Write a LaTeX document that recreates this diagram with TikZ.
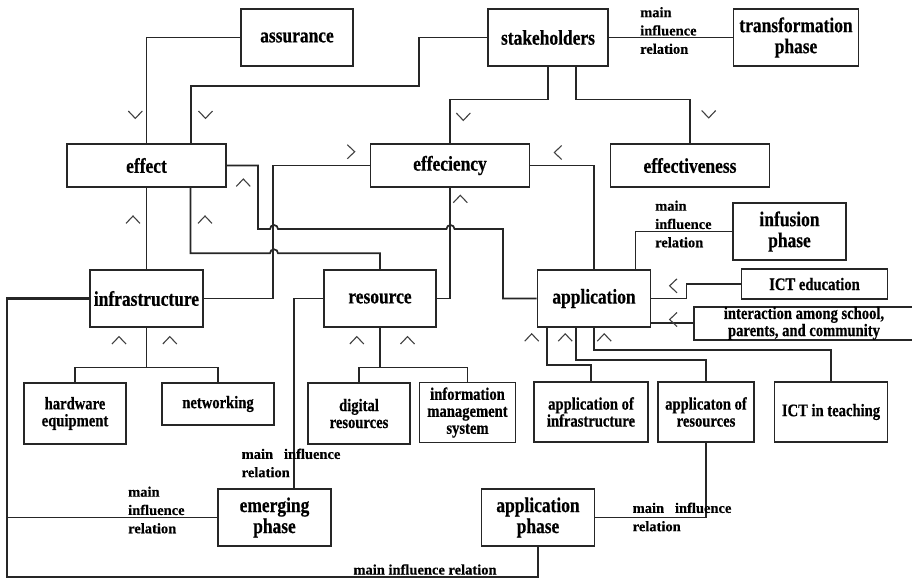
\documentclass[tikz,border=0pt]{standalone}
\usepackage{fontspec}
\newfontfamily\boxfont{Liberation Serif}[FakeStretch=0.83, FakeBold=0.5]
\newfontfamily\lblfont{Liberation Serif}[FakeBold=0.4]
\usetikzlibrary{positioning}

\begin{document}
\begin{tikzpicture}[
  x=1pt, y=-1pt,
  wire/.style={line width=1.7pt, draw=black!85},
  rail/.style={wire, line width=2.2pt},
  blk/.style={rectangle, draw=black!85, line width=1.8pt, inner sep=0pt, align=center,
    font=\boxfont\bfseries\fontsize{21}{21}\selectfont},
  sub/.style={blk, font=\boxfont\bfseries\fontsize{17.6}{17}\selectfont},
  lbl/.style={inner sep=0pt, align=left, anchor=west,
    font=\lblfont\bfseries\fontsize{14.5}{18.3}\selectfont},
  chev/.pic={\draw[line width=1.1pt, black!75] (-7,3.7) -- (0,-3.7) -- (7,3.7);}
]
\useasboundingbox (0,0) rectangle (912,579);
% -------------------------------------------------------------------------
% TOP ROW
% -------------------------------------------------------------------------
\node[blk, minimum width=112, minimum height=57] (assurance) at (297,37.5) {assurance};
\node[blk, minimum width=120, minimum height=57] (stake) at (548,37.5) {stakeholders};
\node[blk, minimum width=125, minimum height=57] (transform) at (796,37.5) {transformation\\phase};
% -------------------------------------------------------------------------
% EFFECT / EFFECIENCY / EFFECTIVENESS
% -------------------------------------------------------------------------
\node[blk, minimum width=159, minimum height=43] (effect) at (146.5,165.5) {effect};
\node[blk, minimum width=159, minimum height=43] (effic) at (450,165.5) {effeciency};
\node[blk, minimum width=159, minimum height=43] (effective) at (690,165.5) {effectiveness};
% -------------------------------------------------------------------------
% INFRASTRUCTURE / RESOURCE / APPLICATION
% -------------------------------------------------------------------------
\node[blk, minimum width=113, minimum height=57] (infra) at (146.5,298.5) {infrastructure};
\node[blk, minimum width=112, minimum height=57] (resource) at (380,298.5) {resource};
\node[blk, minimum width=113, minimum height=57] (appl) at (594,298.5) {application};
\node[blk, minimum width=113, minimum height=57] (infusion) at (789.5,231.5) {infusion\\phase};
\node[sub, minimum width=146, minimum height=30.5] (ictedu) at (814.5,284) {ICT education};
\node[sub, minimum width=219.5, minimum height=30, font=\boxfont\bfseries\fontsize{17.6}{16}\selectfont] (interact) at (804,323.3) {interaction among school,\\parents, and community};
% -------------------------------------------------------------------------
% SUB-ITEMS
% -------------------------------------------------------------------------
\node[sub, minimum width=102, minimum height=61] (hardware) at (75,413.5) {hardware\\equipment};
\node[sub, minimum width=112, minimum height=42] (network) at (218,404) {networking};
\node[sub, minimum width=102, minimum height=61] (digital) at (359,413.5) {digital\\resources};
\node[sub, minimum width=96, minimum height=60] (infomgmt) at (467.5,412.5) {information\\management\\system};
\node[sub, minimum width=114, minimum height=60.5] (appinfra) at (591,412) {application of\\infrastructure};
\node[sub, minimum width=96, minimum height=60.5] (appres) at (706,412) {applicaton of\\resources};
\node[sub, minimum width=113, minimum height=60.5] (ictteach) at (831,412) {ICT in teaching};
% -------------------------------------------------------------------------
% PHASES
% -------------------------------------------------------------------------
\node[blk, minimum width=113, minimum height=57] (emerging) at (274.5,517.5) {emerging\\phase};
\node[blk, minimum width=113, minimum height=57] (appphase) at (538,517.5) {application\\phase};
\coordinate (loopcorner) at (6.7,576.7);

% connectors
\draw[wire] (assurance) -| (effect);
\draw[wire] (stake.west) -| (419,86) -| ([xshift=44.5]effect.north);
\draw[wire] (stake.south) -- ++(0,32.5) -| (effic.north);
\draw[wire] ([xshift=28]stake.south) -- ++(0,32.5) -| (effective.north);
\draw[wire] (stake) -- (transform);
\draw[wire] (effect.east) -- ++(31,0) |- (270,229) arc[start angle=180, end angle=360, radius=4]
  -- (446.5,229) arc[start angle=180, end angle=360, radius=4] -- (503,229) |- (appl.west);
\draw[wire] ([xshift=44]effect.south) |- (270,253.3) arc[start angle=180, end angle=360, radius=4] -| (resource.north);
\draw[wire] (effect) -- (infra);
\draw[wire] (infra.east) -| ([xshift=-96.5]effic.west) -- (effic.west);
\draw[wire] (resource.east) -| (effic.south);
\draw[wire] (effic.east) -| (appl.north);
\draw[wire] ([xshift=41.5]appl.north) |- (infusion.west);
\draw[wire] (ictedu.west) -- ++(-54,0) |- (appl.east);
\draw[wire] (interact.west) -- (appl.east |- interact.west);
\draw[wire] ([xshift=-47]appl.south) |- ([yshift=16]appinfra.north) -- (appinfra.north);
\draw[wire] ([xshift=-18]appl.south) |- ([yshift=21]appres.north) -- (appres.north);
\draw[wire] (appl.south) |- ([yshift=31]ictteach.north) -- (ictteach.north);
\draw[wire] (infra.south) -- ++(0,39.7) coordinate (infrabus) -| (hardware.north) (infrabus) -| (network.north);
\draw[wire] (resource.south) -- ++(0,39.7) coordinate (resbus) -| (digital.north) (resbus) -| (infomgmt.north);
\draw[wire] (resource.west) -| ([xshift=19.6]emerging.north);
\draw[rail] (infra.west) -| (loopcorner) -| (appphase.south);
\draw[wire] (emerging.west) -- (emerging.west -| loopcorner);
\draw[wire] (appphase.east) -| (appres.south);

% relation labels
\node[lbl] (lbltrans) at (640,30.5) {main\\influence\\relation};
\node[lbl] (lblinfus) at (655,224) {main\\influence\\relation};
\node[lbl] (lblleft) at (128,510) {main\\influence\\relation};
\node[lbl] (lblemerg) at (241.5,463) {main~~~influence\\relation};
\node[lbl] (lblappl) at (632.5,517) {main~~~influence\\relation};
\node[lbl, anchor=center] (lblbottom) at (425,569.5) {main influence relation};

% chevron marks
\foreach \x/\y in {135.3/114.7, 205.5/114.7, 463.3/116.7, 708.7/114.2}
  \pic[rotate=180] at (\x,\y) {chev};
\foreach \x/\y in {243.3/182.7, 133/219.7, 205/219.7, 460.3/199, 119/340.3, 169.8/340.3,
    356.8/340.3, 407.5/340.3, 531.7/337.5, 565.2/337.5, 604.2/337.5}
  \pic at (\x,\y) {chev};
\foreach \x/\y in {558/152.5, 673.3/285.8, 673.3/319.5}
  \pic[rotate=90] at (\x,\y) {chev};
\pic[rotate=-90] at (351,151.7) {chev};
\end{tikzpicture}
\end{document}
